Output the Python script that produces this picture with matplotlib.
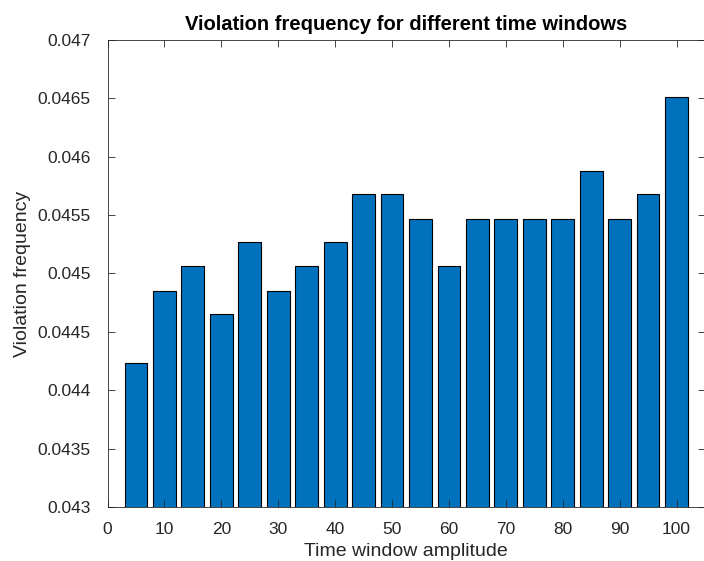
import matplotlib.pyplot as plt
from matplotlib.ticker import FuncFormatter, MultipleLocator

# time window amplitudes and their violation frequency
windows = [5, 10, 15, 20, 25, 30, 35, 40, 45, 50,
           55, 60, 65, 70, 75, 80, 85, 90, 95, 100]
violation_freq = [0.04423, 0.04485, 0.04506, 0.04465, 0.04527, 0.04485, 0.04506, 0.04527, 0.04568, 0.04568,
                  0.04547, 0.04506, 0.04547, 0.04547, 0.04547, 0.04547, 0.04588, 0.04547, 0.04568, 0.04651]

plt.rcParams["font.family"] = ["Liberation Sans", "DejaVu Sans"]

fig = plt.figure(figsize=(7.04, 5.61), dpi=100)
ax = fig.add_axes([107.5 / 704, 54 / 561, 597.5 / 704, 467 / 561])

ax.bar(windows, violation_freq, width=4, color="#0072BD", edgecolor="black", linewidth=0.8)

ax.set_xlim(0, 105)
ax.set_ylim(0.043, 0.047)
ax.xaxis.set_major_locator(MultipleLocator(10))
ax.yaxis.set_major_locator(MultipleLocator(0.0005))
ax.yaxis.set_major_formatter(FuncFormatter(lambda v, p: f"{v:g}"))
ax.tick_params(direction="in", top=True, right=True, length=5, width=0.6,
               labelsize=12.5, colors="#262626")
ax.tick_params(axis="y", pad=12)
ax.tick_params(axis="x", pad=11)
for s in ax.spines.values():
    s.set_linewidth(0.6)
    s.set_color("#262626")

ax.set_title("Violation frequency for different time windows", fontsize=14.5, fontweight="bold", pad=7)
ax.set_xlabel("Time window amplitude", fontsize=14, color="#262626", labelpad=4)
ax.set_ylabel("Violation frequency", fontsize=14, color="#262626", labelpad=5)

fig.savefig("out.png", dpi=100)
